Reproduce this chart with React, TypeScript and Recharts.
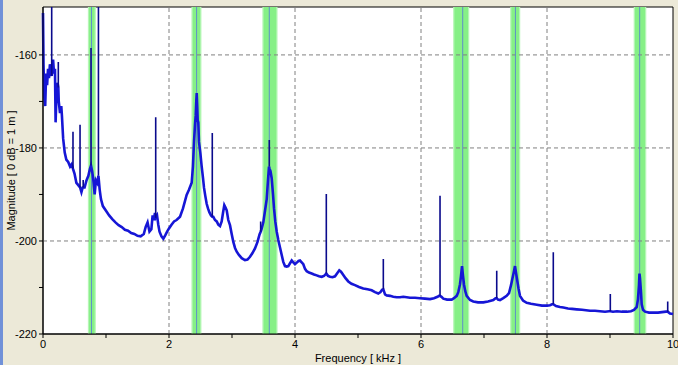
import React from 'react';
import { LineChart, Line, XAxis, YAxis, ReferenceArea, ReferenceLine, Label } from 'recharts';

// spectrum trace as [kHz, dB] pairs, split by region (narrow spikes kept apart below)
const SEG_0_1K: [number, number][] = [
  [0.0, -151], [0.008, -162], [0.02, -169], [0.035, -171], [0.05, -164], [0.065, -166.5],
  [0.08, -163], [0.095, -165], [0.11, -162], [0.122, -164], [0.138, -164.5], [0.16, -161],
  [0.175, -164], [0.19, -163], [0.2, -174.5], [0.215, -168], [0.23, -166], [0.243, -167],
  [0.25, -170], [0.27, -172.5], [0.29, -171], [0.3, -173], [0.32, -178], [0.345, -181],
  [0.37, -182.5], [0.4, -183], [0.43, -184], [0.455, -183.5], [0.476, -184.5], [0.5, -185.5],
  [0.53, -187.5], [0.56, -188], [0.588, -188.5], [0.61, -189.5], [0.63, -188.5], [0.66, -188.5],
  [0.69, -187], [0.72, -186], [0.745, -184.5], [0.762, -183.8], [0.78, -185], [0.8, -187],
  [0.82, -190], [0.84, -187], [0.86, -187.5], [0.88, -186], [0.9, -189], [0.92, -191],
  [0.95, -192.5],
];

const SEG_1_2K: [number, number][] = [
  [1.0, -193.5], [1.05, -194.5], [1.1, -195.3], [1.15, -196], [1.2, -196.6], [1.25, -197],
  [1.3, -197.6], [1.35, -197.8], [1.4, -198.3], [1.45, -198.5], [1.5, -198.9], [1.55, -199],
  [1.6, -198.5], [1.63, -197], [1.66, -196], [1.69, -198], [1.72, -197.5], [1.74, -194.5],
  [1.76, -195.5], [1.777, -194], [1.789, -195], [1.81, -194.5], [1.83, -196.5], [1.85, -198],
  [1.88, -199], [1.91, -199.5], [1.94, -198.8], [1.97, -198], [2.0, -197.3], [2.04, -196.5],
  [2.08, -195.8], [2.12, -195.5], [2.175, -194.8],
];

const SEG_2_3K: [number, number][] = [
  [2.222, -193], [2.28, -190.1], [2.317, -189], [2.36, -187.5], [2.38, -184], [2.397, -178.7],
  [2.413, -175], [2.424, -173], [2.433, -170], [2.44, -168.2], [2.448, -171], [2.455, -174],
  [2.465, -174.5], [2.476, -178.7], [2.497, -181], [2.519, -184], [2.54, -186.5], [2.556, -188.6],
  [2.576, -190.3], [2.598, -192], [2.619, -193], [2.64, -193.8], [2.667, -194.5], [2.687, -194.8],
  [2.703, -194.8], [2.73, -195.5], [2.757, -195.8], [2.783, -196.5], [2.81, -196.8], [2.836, -195.8],
  [2.857, -194], [2.878, -192.3], [2.897, -192.8], [2.916, -193.4], [2.941, -195.5], [2.968, -196.6],
  [2.995, -198.5],
];

const SEG_3_45K: [number, number][] = [
  [3.021, -200.2], [3.048, -201.5], [3.075, -202.3], [3.11, -203], [3.154, -203.7], [3.206, -204.1],
  [3.246, -204], [3.286, -203.4], [3.325, -202.6], [3.365, -201.6], [3.405, -200.2], [3.437, -198.6],
  [3.455, -198], [3.468, -197.5], [3.497, -196], [3.524, -193.5], [3.551, -191], [3.571, -187],
  [3.587, -184], [3.597, -184.5], [3.611, -185], [3.63, -186.5], [3.651, -190], [3.667, -193],
  [3.687, -195.8], [3.71, -198], [3.735, -199.8], [3.762, -201.4], [3.789, -203], [3.814, -204.5],
  [3.841, -205.4], [3.868, -205.5], [3.894, -205.4], [3.921, -204.8], [3.948, -204.2], [3.973, -204.6],
  [4.0, -205], [4.032, -204.6], [4.056, -204.3], [4.079, -204.2], [4.106, -204.6], [4.132, -205],
  [4.159, -206], [4.186, -206.5], [4.222, -206.8], [4.265, -207], [4.302, -207.2], [4.344, -207.4],
  [4.381, -207.6], [4.424, -207.7], [4.46, -207.5], [4.484, -207.2],
];

const SEG_45_64K: [number, number][] = [
  [4.497, -207], [4.524, -207.5], [4.556, -207.7], [4.595, -207.8], [4.635, -207.6], [4.667, -207],
  [4.703, -206.3], [4.73, -206.6], [4.767, -207.3], [4.802, -208], [4.846, -208.7], [4.897, -209.2],
  [4.952, -209.5], [5.016, -209.9], [5.084, -210.2], [5.151, -210.4], [5.217, -210.6], [5.27, -211],
  [5.322, -211.3], [5.357, -211], [5.381, -210.5], [5.402, -210.4], [5.429, -211.5], [5.456, -211.7],
  [5.508, -211.8], [5.56, -212], [5.614, -212.1], [5.667, -212.1], [5.719, -212], [5.773, -212.1],
  [5.825, -212.2], [5.905, -212.2], [5.984, -212.3], [6.063, -212.4], [6.143, -212.5], [6.206, -212.3],
  [6.262, -212], [6.286, -211.8], [6.302, -211.8], [6.325, -212], [6.354, -212.4],
];

const SEG_64_10K: [number, number][] = [
  [6.413, -212.6], [6.487, -212.6], [6.524, -212.3], [6.567, -211.8], [6.592, -211], [6.619, -209.3],
  [6.635, -207.5], [6.651, -205.4], [6.667, -207.5], [6.683, -209.4], [6.703, -210.8], [6.725, -211.8],
  [6.778, -212.7], [6.83, -213], [6.905, -213.2], [6.989, -213.2], [7.063, -213], [7.148, -212.7],
  [7.183, -212.3], [7.202, -212.3], [7.222, -212.6], [7.254, -212.7], [7.306, -212.3], [7.36, -211.8],
  [7.397, -211.2], [7.429, -209.5], [7.452, -208], [7.476, -206.5], [7.492, -205.4], [7.508, -206.8],
  [7.529, -208.6], [7.548, -210.2], [7.571, -211.8], [7.619, -212.8], [7.678, -213.3], [7.746, -213.5],
  [7.837, -213.7], [7.921, -213.9], [8.0, -213.9], [8.048, -213.8], [8.079, -213.6], [8.1, -213.6],
  [8.143, -214], [8.206, -214.2], [8.259, -214.3], [8.333, -214.5], [8.397, -214.6], [8.471, -214.7],
  [8.556, -214.8], [8.619, -214.9], [8.683, -215], [8.762, -215], [8.841, -215.1], [8.921, -215.2],
  [8.984, -215.1], [9.005, -215.1], [9.048, -215.2], [9.111, -215.1], [9.19, -215.2], [9.27, -215.2],
  [9.333, -215.1], [9.381, -214.8], [9.424, -214.2], [9.444, -212.5], [9.46, -209.5], [9.468, -207],
  [9.476, -208], [9.492, -211], [9.503, -213.6], [9.524, -214.8], [9.556, -215.2], [9.619, -215.4],
  [9.687, -215.4], [9.762, -215.4], [9.825, -215.3], [9.889, -215.2], [9.916, -215.2], [9.952, -215.6],
  [10.0, -215.7],
];

// narrow tonal spikes: frequency, foot level, tip level
const SPIKE_F = [0.138, 0.243, 0.476, 0.588, 0.638, 0.762, 0.88, 1.789, 2.687, 3.455, 3.592, 4.497, 5.402, 6.302, 7.202, 8.1, 9.005, 9.916];
const SPIKE_BASE = [-164.5, -167, -184.5, -188.5, -188.5, -183.8, -186, -195, -194.8, -198, -184, -207, -210.4, -211.8, -212.3, -213.6, -215.1, -215.2];
const SPIKE_TOP = [-148, -161.5, -176.5, -175, -186.9, -158.5, -148, -173.4, -176.8, -195.8, -178.3, -189.9, -203.9, -190.3, -206.4, -202.4, -211.4, -213];

// highlighted frequency bands (kHz)
const BAND_LO = [0.712, 2.356, 3.482, 6.51, 7.415, 9.376];
const BAND_HI = [0.839, 2.515, 3.723, 6.766, 7.575, 9.576];
const BAND_MID = [0.77, 2.438, 3.592, 6.662, 7.499, 9.471];

const X_TICKS = [0, 1, 2, 3, 4, 5, 6, 7, 8, 9, 10];
const Y_TICKS = [-220, -210, -200, -190, -180, -170, -160];
const X_GRID = [2, 4, 6, 8];
const Y_GRID = [-200, -180, -160];

const Y_TOP = -149.7;
const FONT = 'Liberation Sans, Arial, sans-serif';

const trace = [...SEG_0_1K, ...SEG_1_2K, ...SEG_2_3K, ...SEG_3_45K, ...SEG_45_64K, ...SEG_64_10K].map(
  ([f, db]) => ({ f, db })
);

const spikes = SPIKE_F.flatMap((f, i) => [
  { f, db: SPIKE_BASE[i] },
  { f, db: SPIKE_TOP[i] },
  { f, db: null },
]);

const XTick = ({ x, y, payload }: any) =>
  payload.value % 2 === 0 ? (
    <text x={x} y={y + 8} textAnchor="middle" fontSize={11} fontFamily={FONT} fill="#000">
      {payload.value}
    </text>
  ) : (
    <g />
  );

const YTick = ({ x, y, payload }: any) =>
  payload.value % 20 === 0 ? (
    <text x={x} y={y + 4} textAnchor="end" fontSize={11} fontFamily={FONT} fill="#000">
      {payload.value}
    </text>
  ) : (
    <g />
  );

export default function App() {
  return (
    <div style={{ position: 'absolute', left: 0, top: 0, width: 678, height: 365, background: '#ece9d8' }}>
      <div style={{ position: 'absolute', left: 0, top: 0, width: 3, height: 365, background: '#7191d8' }} />
      <LineChart width={678} height={365} margin={{ top: 7, right: 5, bottom: 0, left: 0 }}>
        <XAxis
          dataKey="f"
          type="number"
          domain={[0, 10]}
          ticks={X_TICKS}
          tick={<XTick />}
          tickSize={4}
          tickMargin={2}
          height={31}
          stroke="#000"
          interval={0}
          allowDuplicatedCategory={false}
        >
          <Label value="Frequency [ kHz ]" position="insideBottom" offset={3} fontSize={11} fontFamily={FONT} fill="#000" />
        </XAxis>
        <YAxis
          type="number"
          domain={[-220, Y_TOP]}
          allowDataOverflow
          ticks={Y_TICKS}
          tick={<YTick />}
          tickSize={4}
          tickMargin={2}
          width={43}
          stroke="#000"
          interval={0}
        >
          <Label
            value="Magnitude [ 0 dB = 1 m ]"
            angle={-90}
            position="insideLeft"
            offset={11}
            fontSize={11}
            fontFamily={FONT}
            fill="#000"
            style={{ textAnchor: 'middle' }}
          />
        </YAxis>
        <ReferenceArea x1={0} x2={10} y1={-220} y2={Y_TOP} fill="#fff" fillOpacity={1} stroke="#000" />
        {X_GRID.map((v) => (
          <ReferenceLine key={'gx' + v} x={v} stroke="#808080" strokeDasharray="4 3" />
        ))}
        {Y_GRID.map((v) => (
          <ReferenceLine key={'gy' + v} y={v} stroke="#808080" strokeDasharray="4 3" />
        ))}
        {BAND_LO.map((lo, i) => (
          <ReferenceArea key={'bo' + i} x1={lo} x2={BAND_HI[i]} y1={-220} y2={Y_TOP} fill="#b6f6b6" fillOpacity={1} />
        ))}
        {BAND_LO.map((lo, i) => (
          <ReferenceArea
            key={'bi' + i}
            x1={lo + 0.02}
            x2={BAND_HI[i] - 0.02}
            y1={-220}
            y2={Y_TOP}
            fill="#86f086"
            fillOpacity={1}
          />
        ))}
        {BAND_MID.map((m, i) => (
          <ReferenceLine key={'bm' + i} x={m} stroke="#5f8fc8" strokeWidth={1} />
        ))}
        <Line
          data={trace}
          type="linear"
          dataKey="db"
          stroke="#1616d6"
          strokeWidth={2.6}
          dot={false}
          isAnimationActive={false}
        />
        <Line
          data={spikes}
          type="linear"
          dataKey="db"
          stroke="#0a0a8c"
          strokeWidth={1.6}
          dot={false}
          connectNulls={false}
          isAnimationActive={false}
        />
      </LineChart>
    </div>
  );
}
